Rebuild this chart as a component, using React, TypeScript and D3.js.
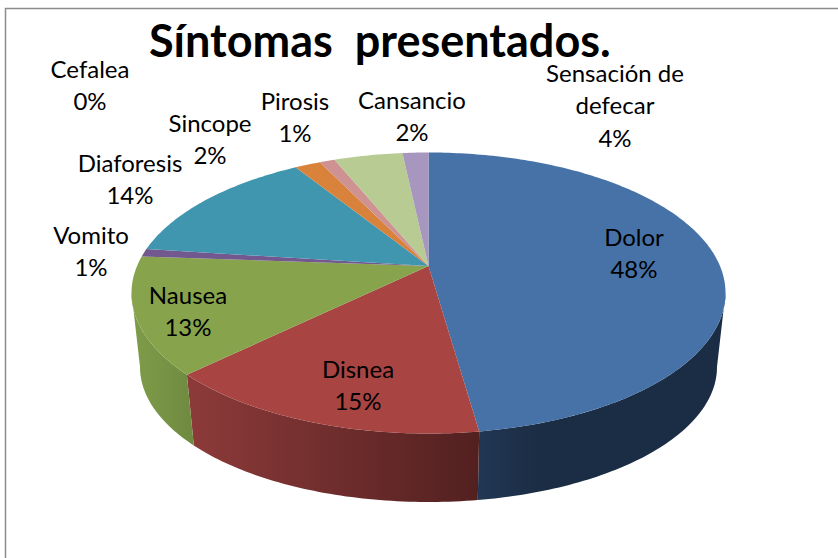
import React from "react";
import * as d3 from "d3";

const categories = ["Dolor", "Disnea", "Nausea", "Vomito", "Diaforesis", "Sincope", "Pirosis", "Sensación de defecar", "Cansancio", "Cefalea"];
const values = [47.75, 15.0, 13.4, 0.9, 14.05, 1.7, 1.0, 4.5, 1.7, 0];
const topColors = ["#4672a8", "#a84442", "#87a44c", "#71588f", "#4096ae", "#d8823b", "#cd9291", "#b8cb92", "#a796bd", "#8cb0d8"];
const sideFrom = ["#213753", "#8b3a39", "#7d9a48", "#5a4672", "#317588", "#a8642c", "#a07070", "#90a070", "#807090", "#7090b0"];
const sideTo = ["#1b2d44", "#532020", "#6f8a40", "#4a3862", "#2a6070", "#8a5224", "#805a5a", "#808f60", "#706080", "#607f9f"];

type Lbl = { lines: string[]; x: number; y: number };
const labels: Lbl[] = [
  { lines: ["Dolor", "48%"], x: 634, y: 238 },
  { lines: ["Disnea", "15%"], x: 358, y: 370 },
  { lines: ["Nausea", "13%"], x: 188, y: 296 },
  { lines: ["Vomito", "1%"], x: 91, y: 236 },
  { lines: ["Diaforesis", "14%"], x: 130, y: 164 },
  { lines: ["Sincope", "2%"], x: 210, y: 124 },
  { lines: ["Pirosis", "1%"], x: 295, y: 102 },
  { lines: ["Sensación de", "defecar", "4%"], x: 615, y: 74 },
  { lines: ["Cansancio", "2%"], x: 412, y: 101 },
  { lines: ["Cefalea", "0%"], x: 90, y: 70 },
];
const titleText = "Síntomas  presentados.";

const FONT = "Lato, 'Open Sans', sans-serif";
const topE = { cx: 428.5, cy: 293, rx: 297, ry: 140.5 };
const botE = { cx: 428.5, cy: 367, rx: 288.5, ry: 135 };
const apexShift = -0.192;
const wallMin = (101 * Math.PI) / 180;
const wallMax = (259 * Math.PI) / 180;

// perspective projection of the unit disc (angle clockwise from the top)
function project(theta: number, e: typeof topE, r = 1): [number, number] {
  const x = r * Math.sin(theta);
  const y = -r * Math.cos(theta);
  const d = 1 + apexShift * y;
  const X = (x * Math.sqrt(1 - apexShift * apexShift)) / d;
  const Y = (y + apexShift) / d;
  return [e.cx + X * e.rx, e.cy + Y * e.ry];
}

const pieGen = d3.pie<number>().sort(null).value((d) => d);
const arcs = pieGen(values);
const line = d3.line<[number, number]>();

function sample(a: number, b: number): number[] {
  const n = Math.max(2, Math.ceil(Math.abs(b - a) * 60));
  return d3.range(n + 1).map((i) => a + ((b - a) * i) / n);
}

function topPath(a: number, b: number) {
  const pts = sample(a, b).map((t) => project(t, topE));
  return line([project(0, topE, 0), ...pts]) + "Z";
}
function wallPath(a: number, b: number) {
  const up = sample(a, b).map((t) => project(t, topE));
  const lo = sample(b, a).map((t) => project(t, botE));
  return line([...up, ...lo]) + "Z";
}

export default function App() {
  const walls = arcs
    .map((d, i) => ({ i, a: Math.max(d.startAngle, wallMin), b: Math.min(d.endAngle, wallMax) }))
    .filter((w) => w.b > w.a);
  return (
    <svg width={838} height={558} style={{ position: "absolute", left: 0, top: 0, background: "#fff" }}>
      <defs>
        {walls.map((w) => {
          const xs = [project(w.a, botE)[0], project(w.b, botE)[0]];
          const left = Math.min(...xs);
          const right = Math.max(...xs);
          return (
            <linearGradient key={w.i} id={`wall${w.i}`} gradientUnits="userSpaceOnUse" x1={left} x2={right} y1={0} y2={0}>
              <stop offset={0} stopColor={sideFrom[w.i]} />
              <stop offset={w.i === 0 ? 0.25 : 1} stopColor={sideTo[w.i]} />
            </linearGradient>
          );
        })}
      </defs>
      <path d="M5.5,558V8.5H838" fill="none" stroke="#8c8c8c" strokeWidth={1.5} />
      {walls.map((w) => (
        <path key={w.i} d={wallPath(w.a, w.b)} fill={`url(#wall${w.i})`} />
      ))}
      {arcs.map((d, i) =>
        d.endAngle > d.startAngle ? <path key={categories[i]} d={topPath(d.startAngle, d.endAngle)} fill={topColors[i]} /> : null
      )}
      <text x={149} y={57} fontFamily={FONT} fontSize={45} fontWeight={700} fill="#000" style={{ whiteSpace: "pre" }}>
        {titleText}
      </text>
      {labels.map((l) => (
        <text key={l.lines[0]} fontFamily={FONT} fontSize={24} fill="#000" textAnchor="middle">
          {l.lines.map((t, j) => (
            <tspan key={j} x={l.x} y={l.y + j * 32.3 + 8}>
              {t}
            </tspan>
          ))}
        </text>
      ))}
    </svg>
  );
}
